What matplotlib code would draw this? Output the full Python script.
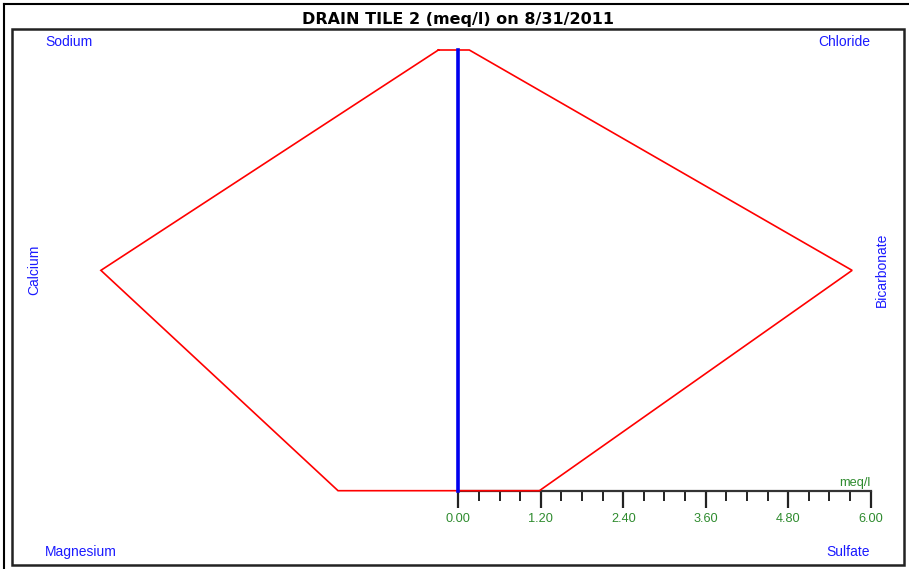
import matplotlib
matplotlib.use("Agg")
import matplotlib.pyplot as plt
from matplotlib.patches import Rectangle
from matplotlib.lines import Line2D
from matplotlib.ticker import FixedLocator

# Stiff diagram data (meq/l)
title = "DRAIN TILE 2 (meq/l) on 8/31/2011"
cations = ["Sodium", "Calcium", "Magnesium"]
anions = ["Chloride", "Bicarbonate", "Sulfate"]
cation_values = [0.29, 5.20, 1.75]
anion_values = [0.16, 5.73, 1.18]
tick_values = [0.00, 1.20, 2.40, 3.60, 4.80, 6.00]
tick_labels = ["0.00", "1.20", "2.40", "3.60", "4.80", "6.00"]
minor_step = 0.30
unit_label = "meq/l"

W, H = 909, 569
fig = plt.figure(figsize=(W / 100, H / 100), dpi=100)
fig.patch.set_facecolor("white")

# plotting frame in pixel terms
L, R, T, B = 12, 904, 29, 565
ax = fig.add_axes([L / W, 1 - B / H, (R - L) / W, (B - T) / H])

x0_px, scale = 458.3, 68.73
row_top, row_step = 50.0, 220.35
ax.set_xlim((L - x0_px) / scale, (R - x0_px) / scale)
ax.set_ylim((B - row_top) / row_step, (T - row_top) / row_step)

rows = list(range(len(cations)))

# polygon: cations on the left (negative), anions on the right
poly_x = [-cation_values[0]] + list(anion_values) + [-c for c in reversed(cation_values)]
poly_y = [rows[0]] + rows + list(reversed(rows))
ax.plot(poly_x, poly_y, color="#ff0000", lw=1.2, zorder=4, solid_joinstyle="miter")

# centre line
ax.plot([0, 0], [rows[0], rows[-1]], color="#0000ee", lw=2.6, zorder=5)

# scale axis along the bottom row
for side in ["left", "right", "top"]:
    ax.spines[side].set_visible(False)
sp = ax.spines["bottom"]
sp.set_position(("data", rows[-1]))
sp.set_bounds(tick_values[0], tick_values[-1])
sp.set_color("#333333")
sp.set_linewidth(1.6)
sp.set_zorder(3)
n_minor = int(round((tick_values[-1] - tick_values[0]) / minor_step))
minor_ticks = [tick_values[0] + i * minor_step for i in range(n_minor + 1)]
ax.xaxis.set_major_locator(FixedLocator(tick_values))
ax.xaxis.set_minor_locator(FixedLocator(minor_ticks))
ax.set_xticklabels(tick_labels)
ax.tick_params(axis="x", which="major", direction="out", length=12, width=1.6,
               color="#222222", labelcolor="#2e8b2e", labelsize=9.2, pad=4)
ax.tick_params(axis="x", which="minor", direction="out", length=7, width=1.4,
               color="#222222")
for lab in ax.get_xticklabels():
    lab.set_fontfamily("Liberation Sans")
ax.set_yticks([])

ax.text(tick_values[-1], 1.963, unit_label, ha="right", va="center",
        color="#2e8b2e", fontsize=9.2, family="Liberation Sans")

# ion labels
lab_kw = dict(color="#1a1aff", fontsize=10, family="Liberation Sans",
              transform=ax.transAxes)
ax.text(0.037, 0.9757, cations[0], ha="left", va="center", **lab_kw)
ax.text(0.962, 0.9757, anions[0], ha="right", va="center", **lab_kw)
ax.text(0.0247, 0.5504, cations[1], ha="center", va="center", rotation=90, **lab_kw)
ax.text(0.975, 0.5504, anions[1], ha="center", va="center", rotation=90, **lab_kw)
ax.text(0.037, 0.0243, cations[2], ha="left", va="center", **lab_kw)
ax.text(0.962, 0.0243, anions[2], ha="right", va="center", **lab_kw)

# frame around the plotting area
ax.add_patch(Rectangle((0, 0), 1, 1, transform=ax.transAxes, fill=False,
                       edgecolor="#222222", lw=1.8, clip_on=False, zorder=6))

# outer border (left and top edges)
fig.add_artist(Line2D([4 / W, 4 / W], [0, 1 - 4 / H], transform=fig.transFigure,
                      color="black", lw=1.5))
fig.add_artist(Line2D([4 / W, 1], [1 - 4 / H, 1 - 4 / H], transform=fig.transFigure,
                      color="black", lw=1.5))

fig.text(458 / W, 1 - 19.5 / H, title, ha="center", va="center",
         fontsize=11.5, fontweight="bold", family="DejaVu Sans")

fig.savefig("out.png", dpi=100)
